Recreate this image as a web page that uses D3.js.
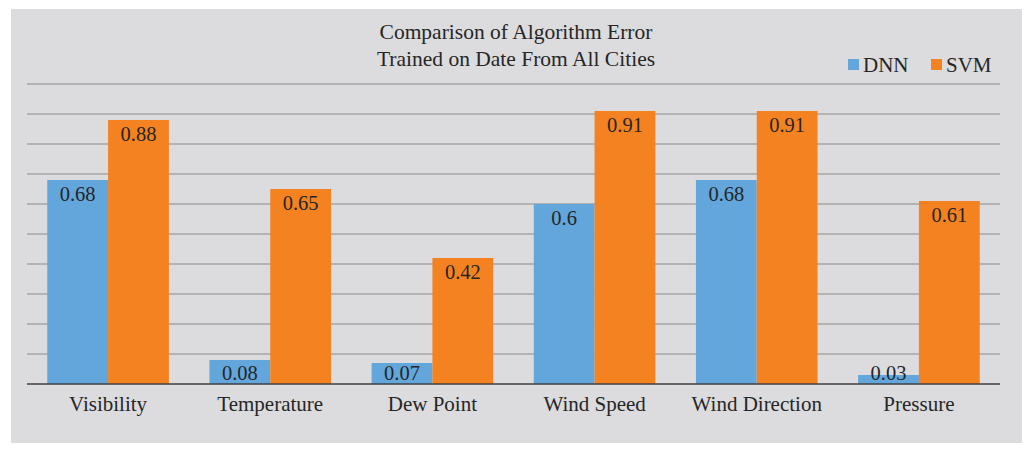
<!DOCTYPE html>
<html>
<head>
<meta charset="utf-8">
<title>Comparison of Algorithm Error</title>
<script src="https://cdnjs.cloudflare.com/ajax/libs/d3/7.8.5/d3.min.js"></script>
<style>
  body { margin: 0; background: #fff; }
</style>
</head>
<body>
<script>
// data
var categories = ["Visibility", "Temperature", "Dew Point", "Wind Speed", "Wind Direction", "Pressure"];
var seriesNames = ["DNN", "SVM"];
var dnn = [0.68, 0.08, 0.07, 0.6, 0.68, 0.03];
var svm = [0.88, 0.65, 0.42, 0.91, 0.91, 0.61];
var colors = ["#62a6db", "#f58220"];
var titleLines = ["Comparison of Algorithm Error", "Trained on Date From All Cities"];

var FONT = "'Liberation Serif', 'Times New Roman', serif";
var INK = "#262626";

var W = 1033, H = 452;
var svg = d3.select("body").append("svg")
    .attr("width", W)
    .attr("height", H);

// grey panel
svg.append("rect")
    .attr("x", 11).attr("y", 9)
    .attr("width", 1011).attr("height", 434)
    .attr("fill", "#dcdcde");

var plot = {left: 27, right: 1000, top: 84, bottom: 384};

var x0 = d3.scaleBand()
    .domain(categories)
    .range([plot.left, plot.right])
    .paddingInner(0.25)
    .paddingOuter(0.125);

var x1 = d3.scaleBand()
    .domain(seriesNames)
    .range([0, x0.bandwidth()]);

var y = d3.scaleLinear()
    .domain([0, 1])
    .range([plot.bottom, plot.top]);

// gridlines
svg.append("g")
  .selectAll("line")
  .data(y.ticks(10).filter(function(d) { return d > 0; }))
  .join("line")
    .attr("x1", plot.left).attr("x2", plot.right)
    .attr("y1", function(d) { return y(d); })
    .attr("y2", function(d) { return y(d); })
    .attr("stroke", "#a6a6a6")
    .attr("stroke-width", 1.5);

// bars
var rows = categories.map(function(c, i) {
    return [{cat: c, s: "DNN", v: dnn[i]}, {cat: c, s: "SVM", v: svm[i]}];
});

var groups = svg.append("g")
  .selectAll("g")
  .data(rows)
  .join("g")
    .attr("transform", function(d) { return "translate(" + x0(d[0].cat) + ",0)"; });

groups.selectAll("rect")
  .data(function(d) { return d; })
  .join("rect")
    .attr("x", function(d) { return x1(d.s); })
    .attr("y", function(d) { return y(d.v); })
    .attr("width", x1.bandwidth())
    .attr("height", function(d) { return y(0) - y(d.v); })
    .attr("fill", function(d) { return colors[seriesNames.indexOf(d.s)]; });

// value labels, inside end
groups.selectAll("text")
  .data(function(d) { return d; })
  .join("text")
    .attr("x", function(d) { return x1(d.s) + x1.bandwidth() / 2; })
    .attr("y", function(d) { return Math.min(y(d.v) + 21, y(0) - 4); })
    .attr("text-anchor", "middle")
    .style("font-family", FONT)
    .style("font-size", "20.5px")
    .style("fill", INK)
    .text(function(d) { return d.v; });

// baseline
svg.append("line")
    .attr("x1", plot.left).attr("x2", plot.right)
    .attr("y1", y(0)).attr("y2", y(0))
    .attr("stroke", "#404040")
    .attr("stroke-width", 1.5);

// category labels
var xAxis = d3.axisBottom(x0).tickSize(0).tickPadding(0);
var gx = svg.append("g")
    .attr("transform", "translate(0," + y(0) + ")")
    .call(xAxis);
gx.select(".domain").remove();
gx.selectAll("text")
    .attr("dy", null)
    .attr("y", 27)
    .style("font-family", FONT)
    .style("font-size", "21px")
    .style("fill", INK);

// title
svg.append("text")
    .attr("text-anchor", "middle")
    .style("font-family", FONT)
    .style("font-size", "21.5px")
    .style("fill", INK)
  .selectAll("tspan")
  .data(titleLines)
  .join("tspan")
    .attr("x", 516)
    .attr("y", function(d, i) { return 39 + i * 27; })
    .text(function(d) { return d; });

// legend
var legend = svg.append("g")
  .selectAll("g")
  .data(seriesNames)
  .join("g")
    .attr("transform", function(d, i) { return "translate(" + (848 + i * 83) + ",59)"; });

legend.append("rect")
    .attr("width", 11).attr("height", 11)
    .attr("fill", function(d, i) { return colors[i]; });

legend.append("text")
    .attr("x", 15)
    .attr("y", 13)
    .style("font-family", FONT)
    .style("font-size", "21px")
    .style("fill", INK)
    .text(function(d) { return d; });
</script>
</body>
</html>
